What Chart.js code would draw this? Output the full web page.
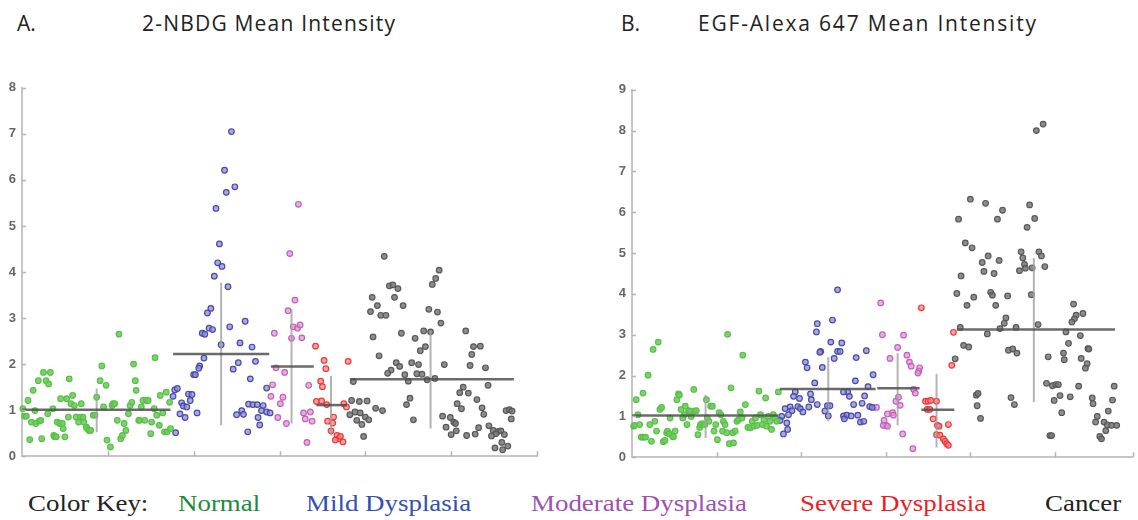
<!DOCTYPE html>
<html>
<head>
<meta charset="utf-8">
<script src="https://cdn.jsdelivr.net/npm/chart.js@4.4.1/dist/chart.umd.min.js"></script>
<style>
  body { margin: 0; background: #fff; width: 1138px; height: 520px; position: relative; overflow: hidden; }
  .title { position: absolute; top: 13px; font-family: 'Open Sans', sans-serif; font-size: 21px; color: #222; white-space: nowrap; line-height: 1; }
  .key { position: absolute; top: 492px; font-family: 'Liberation Serif', serif; font-size: 23px; line-height: 1; white-space: nowrap; transform: scaleX(1.17); transform-origin: left top; }
  #wrapA { position: absolute; left: 0; top: 74px; }
  #wrapB { position: absolute; left: 610px; top: 76px; }
</style>
</head>
<body>
<div class="title" style="left:17px">A.</div>
<div class="title" style="left:142px;letter-spacing:1.2px">2-NBDG Mean Intensity</div>
<div class="title" style="left:621px">B.</div>
<div class="title" style="left:698px;letter-spacing:1.8px">EGF-Alexa 647 Mean Intensity</div>

<div id="wrapA"><canvas id="chartA" width="545" height="396"></canvas></div>
<div id="wrapB"><canvas id="chartB" width="528" height="395"></canvas></div>

<div class="key" style="left:28px;color:#222">Color Key:</div>
<div class="key" style="left:178px;color:#1f8a3e">Normal</div>
<div class="key" style="left:306px;color:#3350b0">Mild Dysplasia</div>
<div class="key" style="left:531px;color:#a050b0">Moderate Dysplasia</div>
<div class="key" style="left:800px;color:#ee1c24">Severe Dysplasia</div>
<div class="key" style="left:1045px;color:#222">Cancer</div>

<script>
// Categories (order of groups along the x axis)
const categories = ['Normal', 'Mild Dysplasia', 'Moderate Dysplasia', 'Severe Dysplasia', 'Cancer'];

// ---- Panel A: 2-NBDG mean intensity, [x jitter position, value] ----
const normalA = [[0.01,1.03],[0.03,0.87],[0.05,0.87],[0.07,1.21],[0.09,0.36],[0.11,0.74],[0.13,1.43],[0.15,0.99],[0.16,0.71],[0.19,1.64],[0.20,0.76],[0.22,0.78],[0.23,0.38],[0.25,1.82],[0.28,1.64],[0.31,1.57],[0.30,0.92],[0.33,1.82],[0.36,1.03],[0.37,0.45],[0.38,0.42],[0.40,0.42],[0.41,0.74],[0.44,0.71],[0.45,1.25],[0.47,0.71],[0.48,0.60],[0.50,0.42],[0.52,1.25],[0.54,0.85],[0.55,1.68],[0.57,1.14],[0.59,1.32],[0.61,1.10],[0.63,0.85],[0.66,0.74],[0.68,0.85],[0.69,1.14],[0.71,0.85],[0.72,0.74],[0.75,0.63],[0.76,0.60],[0.78,0.56],[0.80,0.56],[0.83,0.89],[0.85,0.89],[0.87,1.28],[0.91,1.64],[0.93,1.96],[0.95,1.07],[0.98,1.54],[0.99,0.35],[1.03,0.20],[1.05,1.10],[1.06,1.14],[1.08,1.14],[1.11,0.78],[1.13,2.65],[1.15,0.38],[1.17,0.45],[1.19,0.71],[1.21,0.56],[1.24,0.92],[1.26,1.10],[1.28,1.17],[1.30,2.00],[1.32,1.64],[1.33,1.43],[1.36,0.78],[1.37,0.78],[1.39,1.07],[1.41,1.21],[1.43,0.78],[1.45,1.21],[1.47,1.21],[1.50,0.49],[1.51,0.74],[1.54,1.03],[1.55,2.14],[1.57,0.89],[1.60,0.67],[1.61,1.32],[1.64,0.94],[1.66,0.53],[1.68,1.39],[1.69,0.53],[1.72,1.17],[1.73,0.60]];
const mildA = [[2.44,7.05],[2.36,6.21],[2.38,5.73],[2.48,5.85],[2.26,5.38],[2.30,4.61],[2.28,4.20],[2.33,4.12],[2.24,3.91],[2.40,3.68],[2.20,3.21],[2.16,3.11],[2.18,2.78],[2.22,2.75],[2.10,2.67],[2.13,2.65],[2.60,2.93],[2.42,2.81],[2.32,2.42],[2.54,2.46],[2.68,2.37],[2.12,2.13],[2.07,1.96],[2.06,1.91],[2.00,1.77],[2.02,1.77],[2.46,1.89],[2.52,2.03],[2.72,2.06],[2.66,1.68],[2.85,1.48],[1.76,1.30],[1.78,1.44],[1.81,1.47],[1.94,1.35],[1.98,1.34],[1.96,1.21],[1.86,1.16],[1.88,1.09],[1.92,1.07],[1.84,0.92],[1.90,0.84],[2.04,0.94],[1.79,0.51],[2.56,0.99],[2.50,0.90],[2.58,0.91],[2.64,1.13],[2.69,1.12],[2.74,1.12],[2.81,1.10],[2.79,0.99],[2.85,0.96],[2.89,0.94],[2.75,0.84],[2.77,0.68],[2.63,0.53]];
const moderateA = [[3.22,5.47],[3.12,4.40],[3.18,3.39],[3.10,3.16],[3.16,2.81],[3.21,2.78],[3.24,2.85],[2.94,2.67],[3.14,2.56],[3.26,2.57],[2.96,1.92],[3.06,1.82],[2.92,1.55],[2.90,1.30],[3.04,1.28],[3.01,1.14],[3.34,1.54],[2.98,0.84],[3.08,0.71],[3.28,0.94],[3.30,0.81],[3.38,0.76],[3.32,0.30],[3.36,0.96]];
const severeA = [[3.42,2.39],[3.52,2.08],[3.54,1.90],[3.48,1.63],[3.50,1.51],[3.80,2.06],[3.43,1.19],[3.49,1.20],[3.55,1.12],[3.56,0.76],[3.63,0.85],[3.62,0.72],[3.60,0.55],[3.67,0.45],[3.69,0.38],[3.71,0.43],[3.74,0.31],[3.75,1.14],[3.78,1.07],[3.65,0.35]];
const cancerA = [[4.22,4.34],[4.86,4.04],[4.82,3.86],[4.78,3.73],[4.28,3.70],[4.32,3.72],[4.38,3.64],[4.08,3.45],[4.34,3.45],[4.14,3.27],[4.44,3.27],[4.06,3.14],[4.18,3.06],[4.24,3.06],[4.74,3.19],[4.84,3.13],[4.88,2.89],[4.68,2.72],[4.76,2.70],[4.42,2.67],[5.17,2.72],[4.09,2.59],[4.58,2.56],[4.70,2.38],[4.64,2.29],[4.16,2.18],[5.34,2.39],[5.26,2.38],[5.24,2.21],[4.92,1.99],[5.22,1.97],[5.40,1.92],[4.36,2.03],[4.40,1.95],[4.54,2.03],[4.62,1.99],[4.30,1.87],[4.26,1.80],[4.46,1.77],[4.60,1.79],[4.66,1.78],[4.50,1.63],[4.72,1.66],[4.81,1.69],[3.86,1.62],[5.43,1.54],[5.14,1.50],[5.10,1.38],[5.20,1.37],[5.30,1.23],[5.36,1.05],[5.38,0.91],[5.07,1.14],[5.12,1.03],[4.52,1.26],[4.48,1.12],[4.12,1.04],[4.20,0.99],[3.84,1.21],[3.93,1.19],[4.02,1.20],[3.82,0.90],[3.88,0.96],[3.94,0.94],[4.00,0.85],[4.04,0.79],[3.90,0.78],[3.96,0.69],[4.56,0.79],[4.90,0.87],[4.99,0.84],[5.03,0.74],[4.94,0.63],[5.05,0.71],[5.06,0.55],[5.00,0.47],[5.18,0.45],[5.28,0.48],[5.32,0.62],[5.44,0.66],[5.49,0.56],[5.55,0.54],[5.58,0.55],[5.52,0.49],[5.47,0.44],[5.62,0.47],[5.64,0.99],[5.68,1.01],[5.71,0.98],[5.70,0.81],[5.59,0.30],[5.51,0.18],[5.60,0.14],[5.66,0.22],[3.98,0.43]];

// Panel A group summary: mean, mean-SD, mean+SD, centre and extent of the mean bar
const meanA   = [1.01, 2.22, 1.95, 1.11, 1.67];
const sdLowA  = [0.52, 0.67, 0.71, 0.45, 0.60];
const sdHighA = [1.47, 3.77, 3.19, 1.74, 2.72];
const centerA = [0.87, 2.32, 3.14, 3.60, 4.76];
const barFromA = [0.00, 1.76, 2.90, 3.43, 3.82];
const barToA   = [1.73, 2.88, 3.40, 3.79, 5.73];

// ---- Panel B: EGF-Alexa 647 mean intensity ----
const normalB = [[0.02,0.76],[0.03,0.78],[0.05,1.41],[0.07,1.04],[0.09,0.80],[0.11,0.49],[0.13,0.49],[0.16,0.49],[0.13,1.57],[0.19,2.01],[0.21,0.80],[0.23,0.39],[0.25,2.64],[0.27,0.88],[0.29,0.64],[0.31,2.82],[0.33,1.17],[0.35,1.22],[0.37,0.38],[0.39,0.41],[0.41,0.60],[0.42,0.64],[0.44,0.57],[0.45,0.96],[0.48,0.51],[0.49,0.50],[0.51,0.64],[0.53,1.41],[0.55,1.55],[0.56,1.52],[0.58,1.17],[0.60,0.96],[0.62,1.04],[0.63,1.25],[0.65,0.80],[0.67,1.14],[0.69,1.13],[0.70,1.00],[0.73,1.66],[0.74,1.13],[0.76,1.14],[0.78,0.55],[0.80,0.73],[0.81,0.80],[0.83,0.82],[0.86,0.80],[0.88,1.41],[0.89,0.96],[0.91,0.88],[0.93,1.25],[0.95,1.25],[0.97,0.64],[0.99,0.80],[1.01,0.43],[1.03,1.09],[1.05,1.04],[1.07,0.64],[1.08,0.88],[1.10,0.80],[1.12,0.60],[1.13,3.01],[1.15,0.33],[1.17,1.70],[1.19,0.60],[1.20,0.35],[1.22,0.64],[1.24,0.88],[1.26,0.92],[1.28,1.11],[1.30,0.96],[1.31,2.50],[1.34,1.29],[1.37,0.73],[1.40,0.72],[1.42,0.88],[1.44,0.76],[1.46,0.96],[1.48,0.78],[1.50,1.62],[1.52,1.04],[1.54,0.80],[1.56,0.92],[1.58,1.45],[1.59,0.76],[1.61,1.00],[1.63,0.88],[1.65,0.68],[1.67,1.04],[1.69,0.96],[1.71,0.88],[1.73,1.60]];
const mildB = [[2.43,4.10],[2.19,3.27],[2.37,3.36],[2.18,3.07],[2.35,2.82],[2.48,2.80],[2.23,2.59],[2.22,2.57],[2.43,2.59],[2.46,2.59],[2.39,2.42],[2.65,2.44],[2.77,2.61],[2.05,2.33],[2.07,2.19],[2.25,2.20],[2.85,2.02],[2.16,1.82],[2.64,1.87],[2.79,1.73],[1.93,1.60],[1.91,1.49],[2.11,1.55],[1.98,1.44],[2.12,1.41],[2.55,1.60],[2.57,1.49],[2.50,1.60],[2.75,1.50],[1.81,1.19],[1.87,1.23],[1.89,1.14],[1.96,1.24],[1.99,1.19],[2.02,1.11],[2.09,1.23],[2.19,1.29],[2.28,1.13],[2.31,1.26],[2.34,1.26],[2.32,1.01],[1.85,1.04],[1.77,1.00],[1.75,0.90],[1.83,0.84],[2.62,1.29],[2.72,1.32],[2.81,1.24],[2.84,1.22],[2.50,1.01],[2.54,1.03],[2.59,1.01],[2.67,1.03],[2.51,0.94],[2.70,0.86],[2.74,0.88],[1.84,0.68],[1.79,0.57]];
const moderateB = [[2.94,3.78],[2.96,3.00],[3.21,2.99],[3.14,2.69],[3.05,2.42],[3.25,2.50],[3.28,2.33],[3.30,2.23],[3.40,2.19],[3.39,2.11],[3.38,2.06],[3.33,1.66],[3.35,1.57],[3.12,1.37],[3.15,1.47],[3.17,1.27],[3.02,1.06],[3.08,1.09],[3.09,1.03],[2.98,0.90],[3.00,0.78],[2.97,0.78],[3.02,0.76],[3.20,0.57],[3.32,0.21],[2.89,1.22]];
const severeB = [[3.42,3.66],[3.80,3.06],[3.78,2.25],[3.47,1.37],[3.50,1.37],[3.53,1.39],[3.49,1.17],[3.52,1.17],[3.60,1.37],[3.56,0.94],[3.61,0.78],[3.63,0.76],[3.74,0.80],[3.60,0.55],[3.64,0.54],[3.68,0.45],[3.70,0.39],[3.72,0.33],[3.74,0.29]];
const cancerB = [[4.86,8.16],[4.78,8.00],[4.00,6.32],[4.18,6.22],[4.38,6.05],[4.70,6.18],[3.86,5.83],[4.32,5.83],[4.76,5.85],[4.67,5.63],[3.94,5.25],[4.02,5.13],[4.60,5.03],[4.81,5.03],[4.62,4.88],[4.84,4.93],[4.21,4.93],[4.14,4.77],[4.34,4.82],[4.88,4.67],[4.73,4.64],[4.64,4.72],[4.65,4.63],[4.58,4.57],[4.16,4.55],[4.28,4.50],[3.89,4.44],[3.84,4.01],[4.04,3.92],[4.24,4.04],[4.26,3.97],[4.44,3.95],[3.96,3.72],[4.30,3.72],[4.72,3.98],[5.22,3.75],[5.33,3.52],[5.25,3.48],[5.23,3.39],[5.20,3.31],[4.42,3.41],[4.40,3.28],[4.35,3.15],[4.54,3.18],[4.80,3.25],[3.88,3.18],[4.20,3.02],[5.30,2.98],[5.13,3.07],[5.16,2.79],[5.10,2.55],[5.11,2.39],[5.39,2.66],[5.40,2.65],[5.31,2.42],[5.38,2.29],[5.36,2.18],[4.92,2.46],[3.92,2.74],[3.98,2.70],[4.45,2.62],[4.50,2.65],[4.55,2.55],[3.82,2.41],[4.90,1.81],[4.97,1.75],[5.01,1.78],[5.04,1.78],[5.28,1.74],[5.70,1.74],[5.06,1.51],[4.99,1.39],[5.18,1.48],[5.44,1.45],[5.45,1.31],[5.68,1.40],[5.08,1.09],[4.07,1.52],[4.09,1.56],[4.08,1.26],[4.48,1.46],[4.52,1.29],[4.12,0.95],[5.50,1.00],[5.48,0.86],[5.63,1.13],[5.58,0.86],[5.62,0.79],[5.67,0.78],[5.73,0.78],[5.60,0.65],[4.94,0.53],[4.96,0.53],[5.53,0.51],[5.55,0.45]];

const meanB   = [1.02, 1.67, 1.69, 1.16, 3.13];
const sdLowB  = [0.47, 0.88, 0.78, 0.24, 1.35];
const sdHighB = [1.53, 2.45, 2.55, 2.04, 4.88];
const centerB = [0.87, 2.32, 3.14, 3.60, 4.75];
const barFromB = [0.00, 1.75, 2.90, 3.42, 3.84];
const barToB   = [1.73, 2.88, 3.40, 3.81, 5.71];

// Tick labels on the value axes
const yTicksA = [0, 1, 2, 3, 4, 5, 6, 7, 8];
const yTicksB = [0, 1, 2, 3, 4, 5, 6, 7, 8, 9];

// point colours per group: [border, fill]
const groupColors = [
  ['rgb(88,192,72)',  'rgba(110,205,92,0.9)'],
  ['rgb(72,72,172)',  'rgba(140,140,210,0.75)'],
  ['rgb(196,96,186)', 'rgba(220,150,215,0.75)'],
  ['rgb(238,56,56)',  'rgba(250,130,130,0.75)'],
  ['rgb(88,88,88)',   'rgba(120,120,120,0.85)']
];

// inward tick marks on both axes
const innerTicks = {
  id: 'innerTicks',
  afterDraw(chart) {
    const { ctx, chartArea, scales: { x, y } } = chart;
    ctx.save();
    ctx.strokeStyle = '#b4b4b4';
    ctx.lineWidth = 1.5;
    ctx.beginPath();
    y.ticks.forEach(t => {
      const py = Math.round(y.getPixelForValue(t.value)) + 0.5;
      ctx.moveTo(chartArea.left, py);
      ctx.lineTo(chartArea.left + 4, py);
    });
    x.ticks.forEach(t => {
      if (t.value === 0) return;
      const px = Math.round(x.getPixelForValue(t.value)) + 0.5;
      ctx.moveTo(px, chartArea.bottom);
      ctx.lineTo(px, chartArea.bottom - 5);
    });
    ctx.stroke();
    ctx.restore();
  }
};

function buildDatasets(groups, mean, lo, hi, center, from, to) {
  const sets = [];
  // summary bars first so they sit on top of the points
  for (let i = 0; i < groups.length; i++) {
    sets.push({
      data: [{ x: from[i], y: mean[i] }, { x: to[i], y: mean[i] }],
      showLine: true, borderColor: 'rgba(80,80,80,0.85)', borderWidth: 2.5,
      pointRadius: 0, clip: false
    });
    sets.push({
      data: [{ x: center[i], y: lo[i] }, { x: center[i], y: hi[i] }],
      showLine: true, borderColor: 'rgba(160,160,160,0.8)', borderWidth: 2,
      pointRadius: 0, clip: false
    });
  }
  groups.forEach((g, i) => {
    sets.push({
      label: categories[i],
      data: g.map(p => ({ x: p[0], y: p[1] })),
      borderColor: groupColors[i][0],
      backgroundColor: groupColors[i][1],
      borderWidth: 1.2,
      pointRadius: 2.8,
      clip: false
    });
  });
  return sets;
}

function makeChart(id, datasets, yTicks, xMax) {
  return new Chart(document.getElementById(id), {
    type: 'scatter',
    data: { datasets: datasets },
    options: {
      responsive: false,
      animation: false,
      layout: { padding: { top: 12, bottom: 5, right: id === 'chartA' ? 8 : 0, left: 0 } },
      plugins: { legend: { display: false }, tooltip: { enabled: false } },
      scales: {
        x: {
          type: 'linear', min: 0, max: xMax,
          ticks: { display: false, stepSize: 1 },
          grid: { display: false, drawTicks: false },
          border: { display: true, color: '#c6c6c6', width: 2 },
          afterFit: s => { s.height = 0; }
        },
        y: {
          type: 'linear', min: yTicks[0], max: yTicks[yTicks.length - 1],
          afterBuildTicks: s => { s.ticks = yTicks.map(v => ({ value: v })); },
          ticks: {
            padding: 6, color: '#666',
            font: { family: 'Liberation Sans', size: 13, weight: 'bold' }
          },
          grid: { display: false, drawTicks: false },
          border: { display: true, color: '#c6c6c6', width: 2 },
          afterFit: s => { s.width = 22; }
        }
      }
    },
    plugins: [innerTicks]
  });
}

makeChart('chartA',
  buildDatasets([normalA, mildA, moderateA, severeA, cancerA], meanA, sdLowA, sdHighA, centerA, barFromA, barToA),
  yTicksA, 6);
makeChart('chartB',
  buildDatasets([normalB, mildB, moderateB, severeB, cancerB], meanB, sdLowB, sdHighB, centerB, barFromB, barToB),
  yTicksB, 5.92);
</script>
</body>
</html>
